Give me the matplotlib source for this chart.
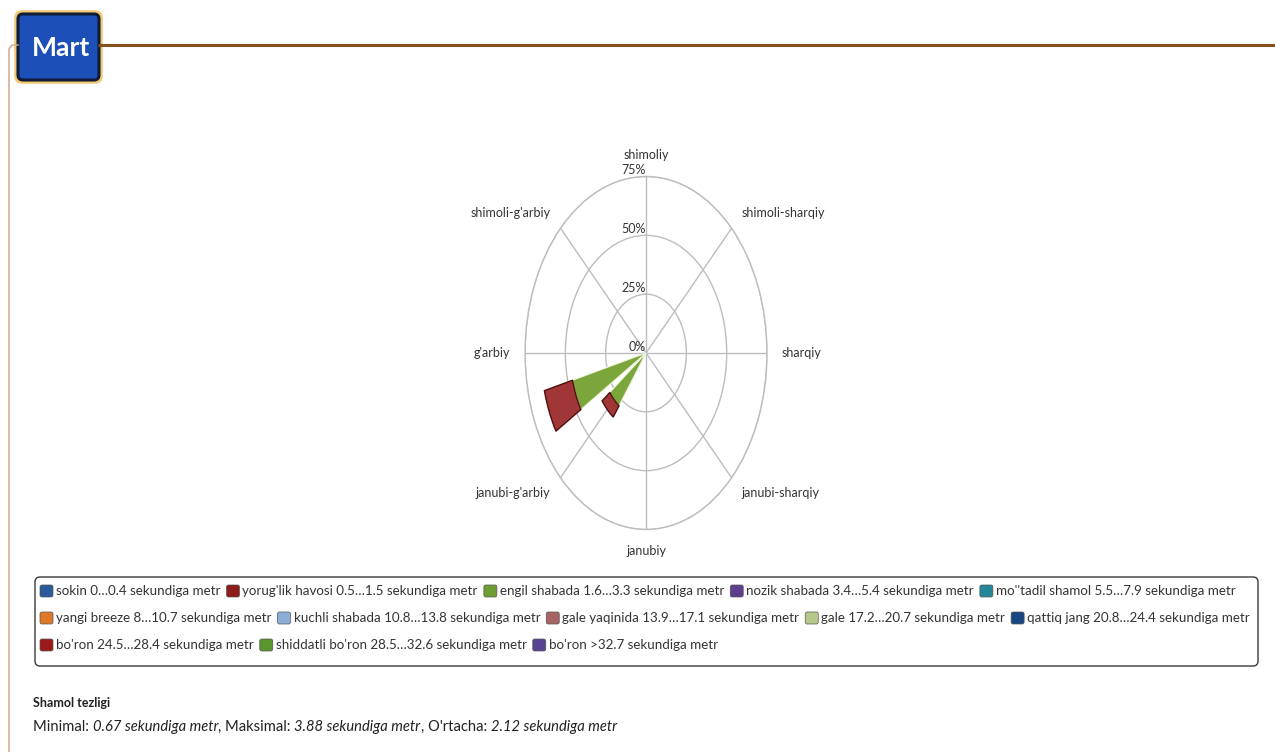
import numpy as np
import matplotlib.pyplot as plt
from matplotlib.patches import FancyBboxPatch

plt.rcParams['font.family'] = ['Lato', 'DejaVu Sans']

# 16 wind directions, N first, clockwise
dirs = ['N', 'NNE', 'NE', 'ENE', 'E', 'ESE', 'SE', 'SSE',
        'S', 'SSW', 'SW', 'WSW', 'W', 'WNW', 'NW', 'NNW']
# % of time per direction
engil = [0, 0, 0, 0, 0, 0, 0, 0, 0, 0, 28, 47, 0, 0, 0, 0]
yorug = [0, 0, 0, 0, 0, 0, 0, 0, 0, 0, 6, 18, 0, 0, 0, 0]

axis_labels = ['shimoliy', 'shimoli-sharqiy', 'sharqiy', 'janubi-sharqiy',
               'janubiy', "janubi-g'arbiy", "g'arbiy", "shimoli-g'arbiy"]
r_ticks = [0, 25, 50, 75]

legend_names = [
    'sokin 0…0.4 sekundiga metr',
    "yorug'lik havosi 0.5…1.5 sekundiga metr",
    'engil shabada 1.6…3.3 sekundiga metr',
    'nozik shabada 3.4…5.4 sekundiga metr',
    "mo''tadil shamol 5.5…7.9 sekundiga metr",
    'yangi breeze 8…10.7 sekundiga metr',
    'kuchli shabada 10.8…13.8 sekundiga metr',
    'gale yaqinida 13.9…17.1 sekundiga metr',
    'gale 17.2…20.7 sekundiga metr',
    'qattiq jang 20.8…24.4 sekundiga metr',
    "bo'ron 24.5…28.4 sekundiga metr",
    "shiddatli bo'ron 28.5…32.6 sekundiga metr",
    "bo'ron >32.7 sekundiga metr",
]
legend_colors = ['#2a5a9a', '#8e1c1c', '#6e9e32', '#5e3f8e', '#24869a',
                 '#e0782a', '#8cadd6', '#a86464', '#b6c98a', '#1b4684',
                 '#9c1a1a', '#5b9530', '#574394']
legend_rows = [5, 5, 3]

stat_names = ['Minimal', 'Maksimal', "O'rtacha"]
stat_vals = [0.67, 3.88, 2.12]

fig = plt.figure(figsize=(12.75, 7.52), dpi=100)
renderer = fig.canvas.get_renderer()

# background layer in pixel coordinates
bg = fig.add_axes([0, 0, 1, 1])
bg.set_xlim(0, 1275)
bg.set_ylim(752, 0)
bg.axis('off')


def text_w(t):
    return t.get_window_extent(renderer).width


# frame lines
bg.plot([98, 1275], [44.5, 44.5], color='#85501f', lw=2.2, solid_capstyle='butt')
bg.plot([18, 12, 9, 9], [45, 45, 49, 752], color='#d2a88a', lw=1.1)

# month badge
bg.add_patch(FancyBboxPatch((16, 12), 85, 70, boxstyle='round,pad=0,rounding_size=6',
                            fc='none', ec='#f2c870', lw=2.5))
bg.add_patch(FancyBboxPatch((18, 14), 81, 66, boxstyle='round,pad=0,rounding_size=5',
                            fc='#1d4fb8', ec='#101c38', lw=2.2))
t = bg.text(61, 48, 'Mart', color='white', fontsize=22, fontweight='bold',
            ha='center', va='center')
t.set_fontsize(22 * 58 / text_w(t))

# wind rose
ax = fig.add_axes([0.4118, 0.2959, 0.1898, 0.4694], projection='polar')
ax.set_aspect('auto')
ax.set_theta_zero_location('N')
ax.set_theta_direction(-1)
ax.patch.set_alpha(0)

theta = np.deg2rad(np.arange(len(dirs)) * 22.5)
e = np.array(engil, float)
y = np.array(yorug, float)
w = np.deg2rad(16.5)
m = e > 0
ax.bar(theta[m], e[m], width=w, color='#7ba63c', edgecolor='#eef4dc', lw=0.8, zorder=3)
m = y > 0
ax.bar(theta[m], y[m], bottom=e[m], width=w, color='#a13636', edgecolor='#4e1010', lw=1, zorder=3)

ax.set_ylim(0, 75)
ax.set_yticks([25, 50, 75])
ax.set_yticklabels([])
ax.set_xticks(np.deg2rad(np.arange(0, 360, 45)))
ax.set_xticklabels([])
ax.grid(color='#bdbdbd', lw=1)
ax.spines['polar'].set_color('#bdbdbd')
ax.spines['polar'].set_linewidth(1)

fs = 9
for r in r_ticks:
    ax.text(0, r, f'{r}%', ha='right', va='bottom', fontsize=fs, color='#333333')

for i, lab in enumerate(axis_labels):
    ang = i * 45
    ha = 'center' if ang in (0, 180) else ('left' if ang < 180 else 'right')
    ax.text(np.deg2rad(ang), 84, lab, ha=ha, va='center', fontsize=fs,
            color='#333333', clip_on=False)

# legend box with flow layout
bg.add_patch(FancyBboxPatch((35, 577), 1223, 89, boxstyle='round,pad=0,rounding_size=5',
                            fc='white', ec='#3a3a3a', lw=1))
row_y = [591, 618, 645]
# pick a font size so the first row spans like the reference
probe = [bg.text(0, 0, s, fontsize=9) for s in legend_names[:legend_rows[0]]]
row_w = sum(text_w(p) for p in probe) + legend_rows[0] * 22
for p in probe:
    p.remove()
leg_fs = 9 * (1248 - 40 - legend_rows[0] * 22) / (row_w - legend_rows[0] * 22)

k = 0
for row, n in enumerate(legend_rows):
    x = 40
    for name, col in zip(legend_names[k:k + n], legend_colors[k:k + n]):
        yc = row_y[row]
        bg.add_patch(FancyBboxPatch((x, yc - 6), 13, 12, boxstyle='round,pad=0,rounding_size=2',
                                    fc=col, ec='#555555', lw=0.5))
        t = bg.text(x + 16, yc, name, ha='left', va='center', fontsize=leg_fs, color='#333333')
        x += 16 + text_w(t) + 6
    k += n

# wind speed summary
bg.text(33, 703, 'Shamol tezligi', ha='left', va='center', fontsize=9,
        fontweight='bold', color='#222222')
pieces = []
for i, (nm, v) in enumerate(zip(stat_names, stat_vals)):
    pieces.append((('' if i == 0 else ', ') + nm + ': ', 'normal'))
    pieces.append((f'{v:.2f} sekundiga metr', 'italic'))
x = 33
for txt, st in pieces:
    t = bg.text(x, 727, txt, ha='left', va='center', fontsize=10.6, style=st, color='#222222')
    x += text_w(t)

fig.savefig('out.png', dpi=100)
